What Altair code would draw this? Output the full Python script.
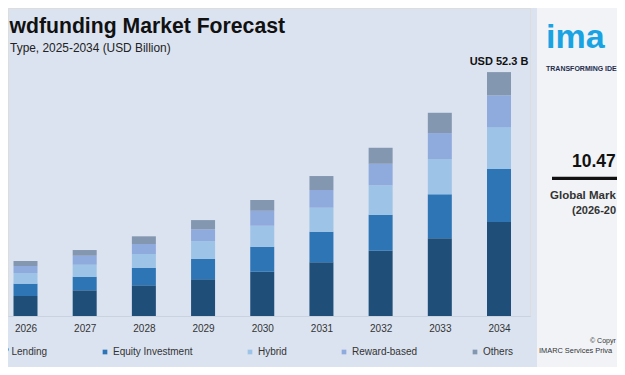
import altair as alt
import pandas as pd

# ---- data ----
years = [2026, 2027, 2028, 2029, 2030, 2031, 2032, 2033, 2034]
segments = ["P2P Lending", "Equity Investment", "Hybrid", "Reward-based", "Others"]
p2p = [4.29, 5.51, 6.58, 7.86, 9.49, 11.51, 13.99, 16.65, 20.14]
equity = [2.64, 2.91, 3.71, 4.41, 5.36, 6.56, 7.71, 9.43, 11.36]
hybrid = [2.29, 2.57, 3.00, 3.79, 4.50, 5.14, 6.30, 7.56, 9.00]
reward = [1.50, 1.93, 2.14, 2.51, 3.21, 3.79, 4.63, 5.57, 6.79]
others = [1.07, 1.22, 1.65, 1.99, 2.29, 3.00, 3.43, 4.35, 4.99]
colors = ["#1f4e79", "#2e75b6", "#9dc3e6", "#8faadc", "#8497b0"]
last_label = "USD 52.3 B"

# texts as visible in the (cropped) reference
title_text = "wdfunding Market Forecast"
subtitle_text = "Type, 2025-2034 (USD Billion)"
logo_text = "ima"
tagline_text = "TRANSFORMING IDE"
cagr_text = "10.47"
cagr_label = "Global Mark"
cagr_period = "(2026-20"
copy1 = "\u00a9 Copyr"
copy2 = "IMARC Services Priva"

series = [p2p, equity, hybrid, reward, others]
rows = []
for si, (name, vals) in enumerate(zip(segments, series)):
    for y, v in zip(years, vals):
        rows.append({"year": y, "segment": name, "value": v, "idx": si})
df = pd.DataFrame(rows)

totals = [sum(s[i] for s in series) for i in range(len(years))]
lab_df = pd.DataFrame({"year": [years[-1]], "total": [totals[-1]], "label": [last_label]})

one = pd.DataFrame({"d": [0]})

W, H = 522, 308
xscale = alt.Scale(domain=[2025.7043, 2034.5237], nice=False, zero=False, padding=0)
yscale = alt.Scale(domain=[0, 66.02], nice=False, padding=0)

# right-hand panel background
panel = alt.Chart(one).mark_rect(color="#f1f3f7").encode(
    x=alt.value(529), x2=alt.value(640), y=alt.value(-10), y2=alt.value(380))

bars = alt.Chart(df).mark_bar(size=24).encode(
    x=alt.X("year:Q", scale=xscale,
            axis=alt.Axis(values=years, format="d", title=None, ticks=False, tickSize=0,
                          grid=False, labelPadding=7, labelFontSize=10, labelColor="#333333",
                          domainColor="#c9d2df", labelFont="Liberation Sans")),
    y=alt.Y("value:Q", stack="zero", scale=yscale, axis=None),
    color=alt.Color("segment:N",
                    scale=alt.Scale(domain=segments, range=colors),
                    sort=segments,
                    legend=alt.Legend(orient="none", direction="horizontal", title=None,
                                      legendX=-31, legendY=339, symbolType="square",
                                      symbolSize=22, symbolStrokeWidth=0, labelFontSize=10,
                                      labelColor="#333333", labelOffset=3, columnPadding=52,
                                      padding=0, labelFont="Liberation Sans")),
    order=alt.Order("idx:Q", sort="ascending"),
)

top_label = alt.Chart(lab_df).mark_text(fontSize=11, fontWeight="bold", color="#111111",
                                        baseline="alphabetic", dy=-7).encode(
    x=alt.X("year:Q", scale=xscale), y=alt.Y("total:Q", scale=yscale), text="label:N")


def txt(text, x, y, size, weight="normal", color="#222222", align="left"):
    return alt.Chart(one).mark_text(text=text, fontSize=size, fontWeight=weight, color=color,
                                    align=align, baseline="alphabetic").encode(
        x=alt.value(x), y=alt.value(y))


title = txt(title_text, 277, 24.7, 21.2, "bold", "#111111", "right")
subtitle = txt(subtitle_text, 162.7, 43.5, 11.9, "normal", "#222222", "right")
logo = txt(logo_text, 538, 40, 34, "bold", "#1aa3e3")
tagline = txt(tagline_text, 538, 63, 7, "bold", "#1f2d4d")
cagr = txt(cagr_text, 564, 159.3, 17.5, "bold", "#111111")
underline = alt.Chart(one).mark_rect(color="#111111").encode(
    x=alt.value(544), x2=alt.value(640), y=alt.value(168.7), y2=alt.value(172))
cagr_l = txt(cagr_label, 542, 191, 11.5, "bold", "#333333")
cagr_p = txt(cagr_period, 564, 206, 11, "bold", "#333333")
c1 = txt(copy1, 582, 335, 7, "normal", "#333333")
c2 = txt(copy2, 531, 345, 7.4, "normal", "#333333")

chart = alt.layer(panel, bars, top_label, title, subtitle, logo, tagline,
                  cagr, underline, cagr_l, cagr_p, c1, c2).properties(
    width=W, height=H,
    autosize=alt.AutoSizeParams(type="none"),
    padding={"left": 0, "top": 0, "right": 87, "bottom": 51},
    background="#dbe3f0",
).configure_view(stroke=None).configure(font="Liberation Sans")

chart.save("out.html", embed_options={"renderer": "svg", "actions": False})
